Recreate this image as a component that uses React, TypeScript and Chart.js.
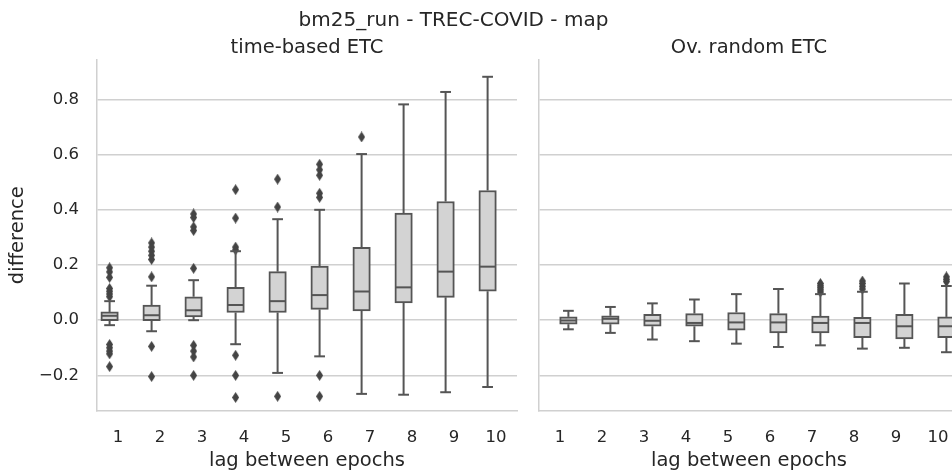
import React, { useEffect, useRef } from "react";
import { Chart, registerables } from "chart.js";

Chart.register(...registerables);

// ---------- data ----------
const LAGS = [1, 2, 3, 4, 5, 6, 7, 8, 9, 10];
const Y_TICKS = [-0.2, 0, 0.2, 0.4, 0.6, 0.8];
const Y_MIN = -0.329;
const Y_MAX = 0.945;

const SUPTITLE = "bm25_run - TREC-COVID - map";
const X_LABEL = "lag between epochs";
const Y_LABEL = "difference";

// time-based ETC
const TIME_LOW = [-0.018, -0.04, 0.0, -0.087, -0.191, -0.131, -0.267, -0.27, -0.261, -0.242];
const TIME_Q1 = [-0.002, -0.002, 0.012, 0.028, 0.028, 0.039, 0.034, 0.063, 0.083, 0.105];
const TIME_MED = [0.016, 0.018, 0.036, 0.055, 0.069, 0.091, 0.104, 0.119, 0.176, 0.194];
const TIME_Q3 = [0.03, 0.055, 0.085, 0.119, 0.176, 0.196, 0.264, 0.388, 0.43, 0.47];
const TIME_HIGH = [0.069, 0.125, 0.145, 0.25, 0.366, 0.4, 0.602, 0.782, 0.827, 0.882];
const TIME_OUTLIERS = [
  [0.19, 0.175, 0.155, 0.115, 0.105, 0.095, 0.085, -0.088, -0.1, -0.112, -0.122, -0.168],
  [0.28, 0.265, 0.25, 0.235, 0.22, 0.157, -0.095, -0.204],
  [0.385, 0.372, 0.338, 0.325, 0.188, -0.091, -0.112, -0.133, -0.2],
  [0.473, 0.37, 0.265, 0.255, -0.127, -0.2, -0.28],
  [0.511, 0.41, -0.276],
  [0.565, 0.545, 0.525, 0.46, 0.445, -0.2, -0.276],
  [0.664],
  [],
  [],
  [],
];

// Ov. random ETC
const RAND_LOW = [-0.033, -0.046, -0.07, -0.076, -0.085, -0.097, -0.091, -0.103, -0.1, -0.116];
const RAND_Q1 = [-0.0145, -0.0145, -0.022, -0.022, -0.036, -0.046, -0.046, -0.063, -0.068, -0.063];
const RAND_MED = [-0.001, 0.005, -0.002, -0.01, -0.008, -0.008, -0.01, -0.01, -0.022, -0.022];
const RAND_Q3 = [0.012, 0.016, 0.021, 0.024, 0.028, 0.024, 0.0145, 0.01, 0.021, 0.012];
const RAND_HIGH = [0.034, 0.048, 0.061, 0.075, 0.0945, 0.113, 0.0945, 0.103, 0.133, 0.124];
const RAND_OUTLIERS = [
  [],
  [],
  [],
  [],
  [],
  [],
  [0.133, 0.125, 0.118, 0.11, 0.102],
  [0.142, 0.133, 0.123, 0.113],
  [],
  [0.157, 0.148, 0.14],
];

// ---------- styles ----------
const FONT = "'DejaVu Sans', sans-serif";
const TEXT = "#262626";
const GRID = "#d0d0d0";
const LINE = "#555555";
const FLIER = "#444444";
const FILL = "#d3d3d3";

function makeDiamond(w: number, h: number, color: string) {
  const c = document.createElement("canvas");
  c.width = w;
  c.height = h;
  const g = c.getContext("2d")!;
  g.fillStyle = color;
  g.beginPath();
  g.moveTo(w / 2, 0);
  g.lineTo(w, h / 2);
  g.lineTo(w / 2, h);
  g.lineTo(0, h / 2);
  g.closePath();
  g.fill();
  return c;
}

const boxPlugin = {
  id: "boxWhiskers",
  afterDatasetsDraw(chart: any) {
    const ds = chart.data.datasets[0];
    const meta = chart.getDatasetMeta(0);
    const y = chart.scales.y;
    const ctx = chart.ctx;
    ctx.save();
    ctx.strokeStyle = LINE;
    ctx.lineWidth = 2;
    const seg = (x1: number, y1: number, x2: number, y2: number) => {
      ctx.beginPath();
      ctx.moveTo(x1, y1);
      ctx.lineTo(x2, y2);
      ctx.stroke();
    };
    meta.data.forEach((el: any, i: number) => {
      const x = el.x;
      const hw = el.width / 2;
      const pLow = y.getPixelForValue(ds.whiskerLow[i]);
      const pQ1 = y.getPixelForValue(ds.q1[i]);
      const pMed = y.getPixelForValue(ds.median[i]);
      const pQ3 = y.getPixelForValue(ds.q3[i]);
      const pHigh = y.getPixelForValue(ds.whiskerHigh[i]);
      ctx.lineCap = "butt";
      seg(x, pQ3, x, pHigh);
      seg(x, pQ1, x, pLow);
      ctx.lineCap = "square";
      seg(x - hw / 2, pHigh, x + hw / 2, pHigh);
      seg(x - hw / 2, pLow, x + hw / 2, pLow);
      ctx.lineCap = "butt";
      seg(x - hw + 1, pMed, x + hw - 1, pMed);
    });
    ctx.restore();
  },
};

function buildConfig(opts: {
  title: string;
  offset: number;
  low: number[];
  q1: number[];
  med: number[];
  q3: number[];
  high: number[];
  outliers: number[][];
  showY: boolean;
  yWidth: number;
  padRight: number;
}) {
  const diamond = makeDiamond(7, 11, FLIER);
  const outlierPts: { x: number; y: number }[] = [];
  LAGS.forEach((lag, i) => {
    opts.outliers[i].forEach((v) => outlierPts.push({ x: lag + opts.offset, y: v }));
  });
  return {
    type: "bar",
    data: {
      datasets: [
        {
          type: "bar",
          data: LAGS.map((lag, i) => ({ x: lag + opts.offset, y: [opts.q1[i], opts.q3[i]] })),
          q1: opts.q1,
          q3: opts.q3,
          median: opts.med,
          whiskerLow: opts.low,
          whiskerHigh: opts.high,
          backgroundColor: FILL,
          borderColor: LINE,
          borderWidth: 2,
          borderSkipped: false,
          barThickness: 17.5,
        },
        {
          type: "scatter",
          data: outlierPts,
          pointStyle: diamond,
          pointRadius: 4,
          backgroundColor: FLIER,
          borderColor: FLIER,
        },
      ],
    },
    options: {
      animation: false,
      responsive: false,
      devicePixelRatio: 1,
      events: [],
      layout: { padding: { top: 36, right: opts.padRight, bottom: 0, left: 0 } },
      plugins: {
        legend: { display: false },
        tooltip: { enabled: false },
        title: {
          display: true,
          fullSize: false,
          text: opts.title,
          color: TEXT,
          font: { family: FONT, size: 19.5, weight: "normal" },
          padding: { top: 0, bottom: 0 },
        },
      },
      scales: {
        x: {
          type: "linear",
          offset: false,
          min: 0.5,
          max: 10.5,
          afterBuildTicks: (s: any) => {
            s.ticks = LAGS.map((v) => ({ value: v }));
          },
          afterFit: (s: any) => {
            s.height = 63;
          },
          grid: { display: false, drawTicks: false },
          border: { display: true, color: GRID, width: 1.5 },
          ticks: {
            color: TEXT,
            font: { family: FONT, size: 16.5 },
            padding: 17,
            maxRotation: 0,
            autoSkip: false,
            callback: (v: any) => String(v),
          },
          title: {
            display: true,
            text: X_LABEL,
            color: TEXT,
            font: { family: FONT, size: 19.5 },
            padding: { top: 0, bottom: 1 },
          },
        },
        y: {
          type: "linear",
          min: Y_MIN,
          max: Y_MAX,
          afterBuildTicks: (s: any) => {
            s.ticks = Y_TICKS.map((v) => ({ value: v }));
          },
          afterFit: (s: any) => {
            s.width = opts.yWidth;
          },
          grid: { color: GRID, lineWidth: 1.5, drawTicks: false },
          border: { display: true, color: GRID, width: 1.5 },
          ticks: {
            display: opts.showY,
            color: TEXT,
            font: { family: FONT, size: 16.5 },
            padding: 18,
            callback: (v: any) => {
              const n = Number(v);
              if (Math.abs(n) < 1e-9) return "0.0";
              return (n < 0 ? "\u2212" : "") + Math.abs(n).toFixed(1);
            },
          },
          title: {
            display: opts.showY,
            text: Y_LABEL,
            color: TEXT,
            font: { family: FONT, size: 19.5 },
            padding: { top: 6, bottom: 0 },
          },
        },
      },
    },
    plugins: [boxPlugin],
  } as any;
}

export default function App() {
  const leftRef = useRef<HTMLCanvasElement>(null);
  const rightRef = useRef<HTMLCanvasElement>(null);

  useEffect(() => {
    const left = new Chart(
      leftRef.current!,
      buildConfig({
        title: "time-based ETC",
        offset: -0.2,
        low: TIME_LOW,
        q1: TIME_Q1,
        med: TIME_MED,
        q3: TIME_Q3,
        high: TIME_HIGH,
        outliers: TIME_OUTLIERS,
        showY: true,
        yWidth: 97,
        padRight: 13,
      })
    );
    const right = new Chart(
      rightRef.current!,
      buildConfig({
        title: "Ov. random ETC",
        offset: 0.2,
        low: RAND_LOW,
        q1: RAND_Q1,
        med: RAND_MED,
        q3: RAND_Q3,
        high: RAND_HIGH,
        outliers: RAND_OUTLIERS,
        showY: false,
        yWidth: 9,
        padRight: 16,
      })
    );
    return () => {
      left.destroy();
      right.destroy();
    };
  }, []);

  return (
    <div
      style={{
        position: "fixed",
        left: 0,
        top: 0,
        width: 952,
        height: 474,
        overflow: "hidden",
        background: "#ffffff",
      }}
    >
      <canvas
        ref={leftRef}
        width={530}
        height={474}
        style={{ position: "absolute", left: 0, top: 0, width: 530, height: 474 }}
      />
      <canvas
        ref={rightRef}
        width={445}
        height={474}
        style={{ position: "absolute", left: 530, top: 0, width: 445, height: 474 }}
      />
      <div
        style={{
          position: "absolute",
          left: 0,
          top: 7,
          width: 907,
          textAlign: "center",
          fontFamily: FONT,
          fontSize: 20,
          lineHeight: "24px",
          color: TEXT,
          whiteSpace: "nowrap",
          pointerEvents: "none",
        }}
      >
        {SUPTITLE}
      </div>
    </div>
  );
}
